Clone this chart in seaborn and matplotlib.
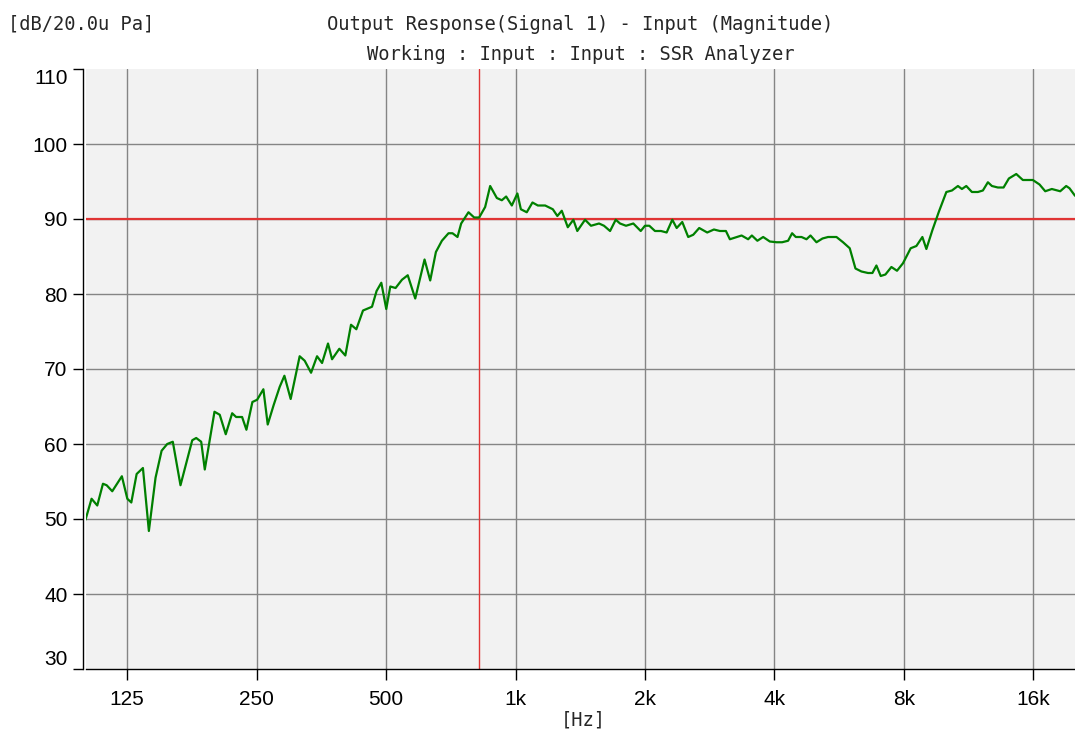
import matplotlib
matplotlib.use("Agg")
import matplotlib.pyplot as plt
import seaborn as sns
from matplotlib.ticker import NullLocator

# frequency response
freq_hz = [
    100, 103.3, 106.5, 109.8, 112.0, 115.4, 121.5, 125.1, 127.8, 131.5,
    136.0, 140.4, 145.5, 150.3, 154.9, 159.6, 166.3, 177.1, 180.9, 185.8,
    189.4, 199.5, 205.2, 211.9, 219.3, 224.0, 231.3, 236.7, 244.4, 250.7,
    259.2, 265.3, 273.9, 282.8, 290.1, 300.0, 314.8, 323.4, 334.6, 345.5,
    354.9, 366.4, 374.4, 389.3, 402.0, 414.4, 426.4, 441.9, 463.7, 475.2,
    487.4, 500.5, 511.4, 526.1, 544.4, 561.5, 584.5, 614.4, 633.3, 652.9,
    674.2, 698.5, 713.6, 732.9, 747.5, 777.3, 801.4, 823.1, 849.9, 873.0,
    904.8, 929.3, 951.0, 980.4, 1010, 1029, 1062, 1095, 1127, 1172,
    1221, 1251, 1281, 1323, 1363, 1392, 1451, 1498, 1564, 1606,
    1659, 1710, 1750, 1807, 1879, 1955, 2000, 2047, 2110, 2179,
    2246, 2315, 2370, 2442, 2521, 2590, 2674, 2791, 2893, 2987,
    3085, 3151, 3355, 3475, 3545, 3651, 3766, 3903, 4045, 4168,
    4304, 4397, 4485, 4624, 4749, 4852, 5010, 5174, 5331, 5576,
    5776, 5987, 6173, 6374, 6603, 6760, 6906, 7067, 7247, 7483,
    7711, 7962, 8297, 8554, 8833, 9024, 9318, 9653, 10043, 10348,
    10685, 10916, 11175, 11516, 11892, 12213, 12545, 12817, 13235, 13643,
    14036, 14603, 15126, 15957, 16541, 17053, 17666, 18477, 19078, 19418,
    20000,
]
level_db = [
    49.9, 52.7, 51.8, 54.7, 54.5, 53.7, 55.7, 52.7, 52.2, 56.0,
    56.8, 48.4, 55.5, 59.1, 60.0, 60.3, 54.5, 60.5, 60.8, 60.3,
    56.6, 64.3, 63.9, 61.3, 64.1, 63.6, 63.6, 61.9, 65.6, 65.9,
    67.3, 62.6, 65.2, 67.6, 69.1, 66.0, 71.7, 71.1, 69.5, 71.7,
    70.8, 73.4, 71.3, 72.7, 71.8, 75.9, 75.3, 77.8, 78.3, 80.4,
    81.5, 78.0, 81.0, 80.8, 81.9, 82.5, 79.4, 84.6, 81.8, 85.6,
    87.1, 88.1, 88.1, 87.6, 89.4, 90.9, 90.2, 90.2, 91.6, 94.4,
    92.8, 92.5, 93.0, 91.8, 93.4, 91.3, 90.9, 92.2, 91.8, 91.8,
    91.3, 90.4, 91.1, 88.9, 89.9, 88.4, 89.9, 89.1, 89.4, 89.1,
    88.4, 89.9, 89.4, 89.1, 89.4, 88.4, 89.1, 89.1, 88.4, 88.4,
    88.2, 89.9, 88.8, 89.6, 87.6, 87.9, 88.8, 88.2, 88.6, 88.4,
    88.4, 87.3, 87.8, 87.3, 87.8, 87.1, 87.6, 87.0, 86.9, 86.9,
    87.1, 88.1, 87.6, 87.6, 87.3, 87.8, 86.9, 87.4, 87.6, 87.6,
    86.9, 86.1, 83.4, 83.0, 82.8, 82.8, 83.8, 82.4, 82.6, 83.6,
    83.1, 84.1, 86.1, 86.4, 87.6, 86.0, 88.5, 91.0, 93.6, 93.8,
    94.4, 94.0, 94.4, 93.6, 93.6, 93.8, 94.9, 94.4, 94.2, 94.2,
    95.4, 96.0, 95.2, 95.2, 94.6, 93.7, 94.0, 93.7, 94.4, 94.1,
    93.1,
]

tick_hz = [125, 250, 500, 1000, 2000, 4000, 8000, 16000]
tick_labels = ["125", "250", "500", "1k", "2k", "4k", "8k", "16k"]
y_grid = [40, 50, 60, 70, 80, 90, 100]
y_edges = [30, 110]
cursor_hz = 823
cursor_db = 90

sns.set_style("white", {"axes.facecolor": "#f2f2f2"})
plt.rcParams["font.family"] = ["Liberation Sans", "DejaVu Sans"]
mono = "DejaVu Sans Mono"

W, H = 1075, 730
fig = plt.figure(figsize=(W / 100, H / 100), dpi=100)
ax = fig.add_axes([85.5 / W, 1 - 669 / H, 1 - 85.5 / W, (669 - 69) / H])

ax.set_xscale("log")
ax.set_axisbelow(True)
sns.lineplot(x=freq_hz, y=level_db, ax=ax, color="#008000", lw=1.6, zorder=3)

# cursor lines
ax.axhline(cursor_db, color="#e03434", lw=1.6, zorder=2)
ax.axvline(cursor_hz, color="#e03434", lw=1.0, zorder=2)

ax.set_xlim(100, 20000)
ax.set_ylim(30, 110)
ax.set_xticks(tick_hz, tick_labels)
ax.xaxis.set_minor_locator(NullLocator())
# inner values carry the grid, the 30 / 110 borders only get tick + label
ax.set_yticks(y_grid, [str(v) for v in y_grid])
ax.set_yticks(y_edges, [str(v) for v in y_edges], minor=True)

ax.grid(True, which="major", color="#858585", lw=1.0)

for side in ["top", "right"]:
    ax.spines[side].set_visible(False)
for side in ["left", "bottom"]:
    ax.spines[side].set_color("black")
    ax.spines[side].set_linewidth(1.0)
ax.spines["left"].set_position(("outward", 2))

ax.tick_params(axis="x", bottom=True, length=8, width=1, pad=7,
               labelsize=15, color="black", labelcolor="black")
ax.tick_params(axis="y", which="both", left=True, length=7.5, width=1, pad=3.5,
               labelsize=15, color="black", labelcolor="black")
yt = ax.yaxis.get_minor_ticks()
yt[0].label1.set_va("bottom")
yt[1].label1.set_va("top")

# header and unit labels
fig.text(8 / W, 1 - 30 / H, "[dB/20.0u Pa]", family=mono, size=13.5,
         ha="left", va="baseline")
fig.text(580.5 / W, 1 - 30 / H, "Output Response(Signal 1) - Input (Magnitude)",
         family=mono, size=13.5, ha="center", va="baseline")
fig.text(581 / W, 1 - 60 / H, "Working : Input : Input : SSR Analyzer",
         family=mono, size=13.5, ha="center", va="baseline")
fig.text(583 / W, 1 - 726 / H, "[Hz]", family=mono, size=13.5,
         ha="center", va="baseline")

fig.savefig("out.png", dpi=100)
